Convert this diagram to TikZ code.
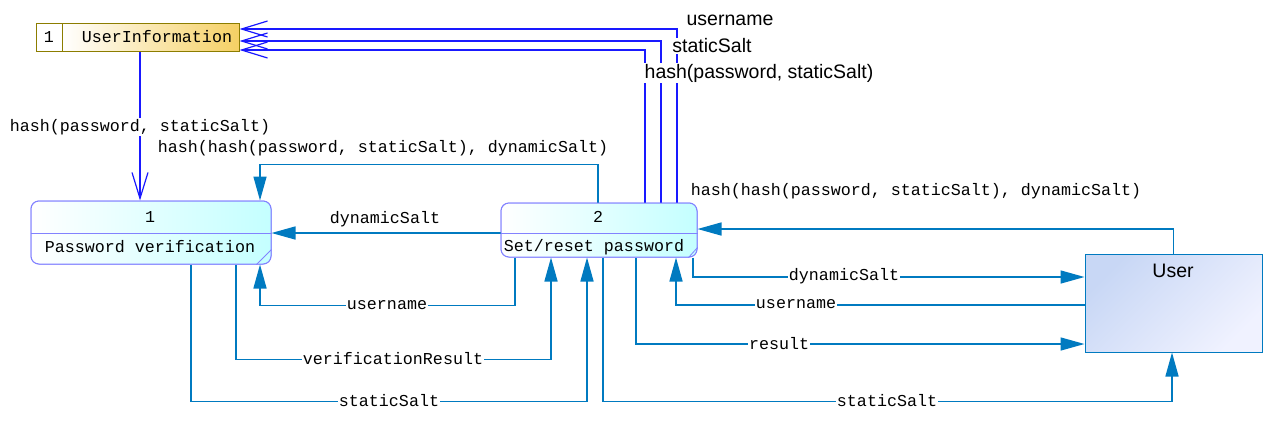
\documentclass[tikz,border=0pt]{standalone}
\usepackage{fontspec}
\setmainfont{Liberation Sans}
\newfontfamily\monof{Liberation Mono}
\usetikzlibrary{arrows.meta}
\definecolor{cb}{RGB}{0,122,192}
\definecolor{ob}{RGB}{25,25,255}
\definecolor{pb}{RGB}{130,130,255}
\definecolor{pc}{RGB}{196,255,255}
\definecolor{ub}{RGB}{140,125,0}
\definecolor{uc}{RGB}{245,208,100}
\definecolor{usa}{RGB}{200,215,245}
\definecolor{usb}{RGB}{240,242,255}
\tikzset{
  mlbl/.style={font=\monof\fontsize{16.67}{18}\selectfont, inner sep=1pt, fill=white},
  mtxt/.style={font=\monof\fontsize{16.67}{18}\selectfont, inner sep=0pt},
  slbl/.style={font=\fontsize{19.5}{22}\selectfont, inner sep=1pt, fill=white},
  conn/.style={draw=cb, line width=1.5pt, -{Triangle[length=24pt,width=13pt]}},
  flow/.style={draw=ob, line width=1.2pt, -{Straight Barb[length=26pt,width=16pt]}},
  pbox/.style={draw=pb, line width=1pt, rounded corners=8pt, left color=white, right color=pc, inner sep=0pt},
  store/.style={draw=ub, line width=1pt, inner sep=0pt},
  extent/.style={draw=cb, line width=1pt, shading=axis, top color=usa, bottom color=usb, shading angle=45, inner sep=0pt}
}
\begin{document}
\begin{tikzpicture}[x=1pt,y=-1pt]
\fill[white] (0,0) rectangle (1281,424);
\useasboundingbox (0,0) rectangle (1281,424);

% nodes
\node[store, fill=white, minimum width=26pt, minimum height=28pt] (uinum) at (49,37) {};
\node[store, left color=white, middle color=uc!55, right color=uc, minimum width=177pt, minimum height=28pt] (ui) at (150.5,37) {};
\node[pbox, minimum width=240pt, minimum height=63pt] (p1) at (151,232.5) {};
\node[pbox, minimum width=196pt, minimum height=54pt] (p2) at (599,230) {};
\node[extent, minimum width=177pt, minimum height=98pt] (user) at (1173.5,303) {};

% connectors
\draw[flow] (ui.south -| 140,0) -- (p1.north -| 140,0);
\draw[conn] (p2.north -| 598,0) -- ++(0,-38) -| (p1.north -| 260,0);
\draw[conn] (p2.west |- 0,233) -- (p1.east |- 0,233);
\draw[conn] (p2.south -| 515,0) -- ++(0,48) -| (p1.south -| 260,0);
\draw[conn] (p1.south -| 236,0) -- ++(0,95) -| (p2.south -| 551,0);
\draw[conn] (p1.south -| 191,0) -- ++(0,137) -| (p2.south -| 587,0);
\draw[conn] (user.north) |- (p2.east |- 0,229);
\draw[conn] (p2.south -| 693,0) |- (user.west |- 0,277);
\draw[conn] (user.west |- 0,305) -| (p2.south -| 676,0);
\draw[conn] (p2.south -| 636,0) |- (user.west |- 0,344);
\draw[conn] (p2.south -| 603,0) -- ++(0,144) -| (user.south -| 1172,0);
\draw[flow] (p2.north -| 677,0) |- (ui.east |- 0,29);
\draw[flow] (p2.north -| 661,0) |- (ui.east |- 0,41);
\draw[flow] (p2.north -| 645,0) |- (ui.east |- 0,50);

% redraw boxes on top
\node[store, fill=white, minimum width=26pt, minimum height=28pt] at (uinum) {};
\node[mtxt] (uinumt) at (49,37) {1};
\node[mtxt] (uit) at (157,37) {UserInformation};
\node[pbox, minimum width=240pt, minimum height=63pt] at (p1) {};
\draw[pb, line width=1pt] (p1.west |- 0,233) -- (p1.east |- 0,233);
\draw[pb, line width=0.8pt] ([xshift=-15pt]p1.south east) -- ([yshift=15pt]p1.south east);
\node[mtxt] (p1n) at (150,217) {1};
\node[mtxt] (p1t) at (150,247) {Password verification};
\node[pbox, minimum width=196pt, minimum height=54pt] at (p2) {};
\draw[pb, line width=1pt] (p2.west |- 0,233) -- (p2.east |- 0,233);
\draw[pb, line width=0.8pt] ([xshift=-9pt]p2.south east) -- ([yshift=10pt]p2.south east);
\node[mtxt] (p2n) at (598,217) {2};
\node[mtxt] (p2t) at (594,247) {Set/reset password};
\node[font=\fontsize{19.5}{22}\selectfont, inner sep=0pt] (usert) at (1173,271) {User};

% labels
\node[mlbl] (l1) at (140,127) {hash(password, staticSalt)};
\node[mlbl] (l2) at (383,148) {hash(hash(password, staticSalt), dynamicSalt)};
\node[mlbl] (l3) at (385,219) {dynamicSalt};
\node[mlbl] (l4) at (387,305) {username};
\node[mlbl] (l5) at (393,359) {verificationResult};
\node[mlbl] (l6) at (389,401) {staticSalt};
\node[mlbl] (l7) at (916,191) {hash(hash(password, staticSalt), dynamicSalt)};
\node[mlbl] (l8) at (844,276) {dynamicSalt};
\node[mlbl] (l9) at (796,304) {username};
\node[mlbl] (l10) at (779,344) {result};
\node[mlbl] (l11) at (887,401) {staticSalt};
\node[slbl] (l12) at (730,20) {username};
\node[slbl] (l13) at (712,46) {staticSalt};
\node[slbl] (l14) at (759,73) {hash(password, staticSalt)};
\end{tikzpicture}
\end{document}
